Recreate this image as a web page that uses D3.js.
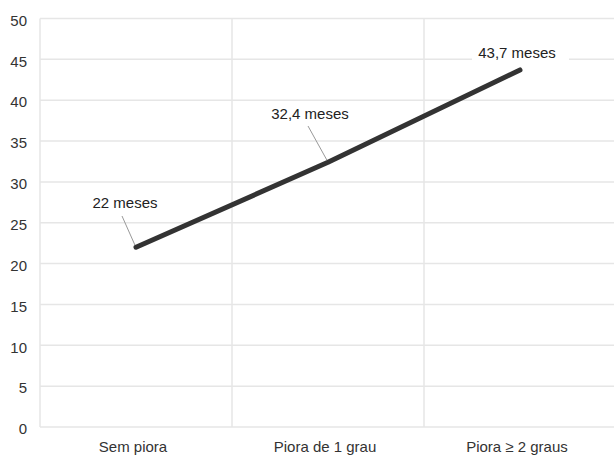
<!DOCTYPE html>
<html>
<head>
<meta charset="utf-8">
<script src="https://cdn.jsdelivr.net/npm/d3@7/dist/d3.min.js"></script>
<style>
  html, body { margin: 0; padding: 0; background: #fff; }
  svg { display: block; font-family: "Liberation Sans", Arial, Helvetica, sans-serif; }
</style>
</head>
<body>
<svg id="chart" width="614" height="456"></svg>
<script>
// Survival (months) by degree of worsening
const categories = ["Sem piora", "Piora de 1 grau", "Piora \u2265 2 graus"];
const values = [22, 32.4, 43.7];
const valueLabels = ["22 meses", "32,4 meses", "43,7 meses"];
const yTicks = [0, 5, 10, 15, 20, 25, 30, 35, 40, 45, 50];

const W = 614, H = 456;
const margin = { top: 18.5, right: -2, bottom: 29, left: 40 };

const svg = d3.select("#chart");

const x = d3.scaleBand()
  .domain(categories)
  .range([margin.left, W - margin.right])
  .paddingInner(0).paddingOuter(0);

const y = d3.scaleLinear()
  .domain([0, 50])
  .range([H - margin.bottom, margin.top]);

const gridColor = "#e6e6e6";

// horizontal grid lines
svg.append("g")
  .selectAll("line")
  .data(yTicks)
  .join("line")
  .attr("x1", margin.left)
  .attr("x2", W)
  .attr("y1", d => y(d))
  .attr("y2", d => y(d))
  .attr("stroke", gridColor)
  .attr("stroke-width", 1.5);

// vertical separators between categories (plus left edge)
svg.append("g")
  .selectAll("line")
  .data(categories)
  .join("line")
  .attr("x1", d => x(d))
  .attr("x2", d => x(d))
  .attr("y1", y(50))
  .attr("y2", y(0))
  .attr("stroke", gridColor)
  .attr("stroke-width", 1.5);

// y axis labels
const yAxis = d3.axisLeft(y).tickValues(yTicks).tickSize(0).tickPadding(13).tickFormat(d3.format("d"));
const gy = svg.append("g")
  .attr("transform", `translate(${margin.left},0)`)
  .call(yAxis);
gy.select(".domain").remove();
gy.selectAll("text")
  .attr("font-size", 15)
  .attr("fill", "#333")
  .attr("font-family", "'Liberation Sans', Arial, sans-serif")
  .attr("dy", "0.45em");

// x axis labels
const xAxis = d3.axisBottom(x).tickSize(0).tickPadding(0);
const gx = svg.append("g")
  .attr("transform", `translate(0,${y(0)})`)
  .call(xAxis);
gx.select(".domain").remove();
gx.selectAll("text")
  .attr("font-size", 15)
  .attr("fill", "#333")
  .attr("font-family", "'Liberation Sans', Arial, sans-serif")
  .attr("dy", 0)
  .attr("y", 25)
  .attr("dx", -3);

const pts = categories.map((c, i) => ({ c, v: values[i], lab: valueLabels[i] }));
const cx = d => x(d.c) + x.bandwidth() / 2;

// leader lines for first two labels
const leaders = [
  { i: 0, tx: 122, ty: 216 },
  { i: 1, tx: 308, ty: 126 }
];
svg.append("g")
  .selectAll("line")
  .data(leaders)
  .join("line")
  .attr("x1", d => d.tx)
  .attr("y1", d => d.ty)
  .attr("x2", d => cx(pts[d.i]) - 1)
  .attr("y2", d => y(pts[d.i].v) - 2)
  .attr("stroke", "#999")
  .attr("stroke-width", 1);

// main line
const line = d3.line().x(cx).y(d => y(d.v));
svg.append("path")
  .datum(pts)
  .attr("d", line)
  .attr("fill", "none")
  .attr("stroke", "#333")
  .attr("stroke-width", 5)
  .attr("stroke-linecap", "round")
  .attr("stroke-linejoin", "round");

// value labels
const labelPos = [
  { x: 125, y: 208 },
  { x: 310, y: 119 },
  { x: 517, y: 58 }
];
// white backing behind the last label, hiding the grid line under it
svg.append("rect")
  .attr("x", 472).attr("y", 42)
  .attr("width", 97).attr("height", 22)
  .attr("fill", "#fff");

svg.append("g")
  .selectAll("text")
  .data(pts)
  .join("text")
  .attr("x", (d, i) => labelPos[i].x)
  .attr("y", (d, i) => labelPos[i].y)
  .attr("text-anchor", "middle")
  .attr("font-size", 15)
  .attr("fill", "#222")
  .text(d => d.lab);
</script>
</body>
</html>
